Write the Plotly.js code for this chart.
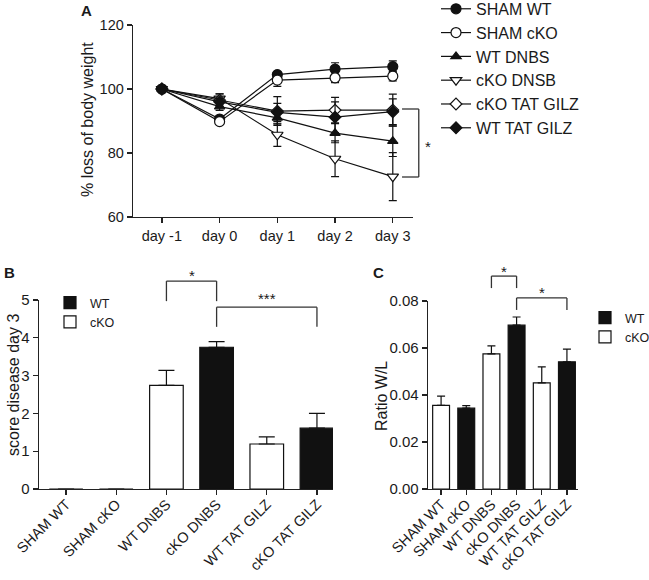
<!DOCTYPE html>
<html><head><meta charset="utf-8">
<script src="https://cdn.plot.ly/plotly-3.0.1.min.js"></script>
<style>html,body{margin:0;padding:0;background:#fff}#chart{width:649px;height:580px}</style>
</head><body><div id="chart"></div>
<script>
// ---- Panel A data ----
const days = ['day -1', 'day 0', 'day 1', 'day 2', 'day 3'];
const shamWT = [100, 90.6, 104.5, 106.2, 107.0];
const shamWTErr = [0.5, 0.8, 0.8, 2.0, 1.8];
const shamCKO = [100, 89.8, 102.8, 103.5, 104.0];
const shamCKOErr = [0.5, 0.8, 2.0, 1.5, 1.5];
const wtDNBS = [100, 94.5, 91.0, 86.2, 83.7];
const wtDNBSErr = [0.5, 1.2, 2.0, 3.0, 4.8];
const ckoDNSB = [100, 97.0, 85.7, 78.2, 72.6];
const ckoDNSBErr = [0.5, 1.5, 3.6, 5.6, 7.5];
const ckoTAT = [100, 96.5, 93.1, 93.4, 93.4];
const ckoTATErr = [0.5, 2.0, 4.5, 4.0, 5.0];
const wtTAT = [100, 96.0, 92.7, 91.2, 92.9];
const wtTATErr = [0.5, 1.0, 2.8, 4.8, 4.0];
const seriesNames = ['SHAM WT', 'SHAM cKO', 'WT DNBS', 'cKO DNSB', 'cKO TAT GILZ', 'WT TAT GILZ'];

// ---- Panel B / C data ----
const groups = ['SHAM WT', 'SHAM cKO', 'WT DNBS', 'cKO DNBS', 'WT TAT GILZ', 'cKO TAT GILZ'];
const scoreDay3 = [0, 0, 2.74, 3.75, 1.19, 1.61];
const scoreDay3Err = [0, 0, 0.40, 0.15, 0.19, 0.39];
const scoreFill = ['cKO', 'cKO', 'cKO', 'WT', 'cKO', 'WT'];
const ratioWL = [0.0356, 0.0344, 0.0575, 0.0697, 0.0452, 0.0541];
const ratioWLErr = [0.0039, 0.0011, 0.0034, 0.0035, 0.0068, 0.0054];
const ratioFill = ['cKO', 'WT', 'cKO', 'WT', 'cKO', 'WT'];
const fillNames = ['WT', 'cKO'];

// ---- styling ----
const W = 649, H = 580;
const FONT = 'Liberation Sans, Arial, Helvetica, sans-serif';
const INK = '#1a1a1a';
const fillColor = {WT: '#111111', cKO: '#ffffff'};

const domA = {x: [133 / W, 413 / W], y: [1 - 217 / H, 1 - 25 / H], xr: [-0.5, 4.35], yr: [60, 120]};
const domB = {x: [39 / W, 333 / W], y: [1 - 489 / H, 1 - 300 / H], xr: [-0.54, 5.32], yr: [0, 5]};
const domC = {x: [428 / W, 578 / W], y: [1 - 489 / H, 1 - 301 / H], xr: [-0.52, 5.44], yr: [0, 0.08]};

function px(d, v) { return d.x[0] + (v - d.xr[0]) / (d.xr[1] - d.xr[0]) * (d.x[1] - d.x[0]); }
function py(d, v) { return d.y[0] + (v - d.yr[0]) / (d.yr[1] - d.yr[0]) * (d.y[1] - d.y[0]); }

const traces = [];
const aVals = [shamWT, shamCKO, wtDNBS, ckoDNSB, ckoTAT, wtTAT];
const aErrs = [shamWTErr, shamCKOErr, wtDNBSErr, ckoDNSBErr, ckoTATErr, wtTATErr];
const aSym = ['circle', 'circle', 'triangle-up', 'triangle-down', 'diamond', 'diamond'];
const aFill = ['#111', '#fff', '#111', '#fff', '#fff', '#111'];
const aSize = [10, 10, 9, 10, 9, 9];
for (let i = 0; i < aVals.length; i++) {
  traces.push({
    type: 'scatter', mode: 'lines+markers', name: seriesNames[i],
    x: days, y: aVals[i], xaxis: 'x', yaxis: 'y', legend: 'legend',
    line: {color: '#111', width: 1.2},
    marker: {symbol: aSym[i], size: aSize[i], color: aFill[i], line: {color: '#111', width: 1.2}},
    error_y: {type: 'data', array: aErrs[i], color: '#111', thickness: 1.2, width: 4},
    cliponaxis: false, hoverinfo: 'skip'
  });
}

function barTraces(vals, errs, fills, xa, ya, leg, capW) {
  return fillNames.map(f => ({
    type: 'bar', name: f, legend: leg, xaxis: xa, yaxis: ya,
    x: groups,
    y: vals.map((v, i) => fills[i] === f ? v : null),
    width: 0.67,
    marker: {color: fillColor[f], line: {color: '#111', width: 1.2}},
    error_y: {type: 'data', symmetric: false,
      array: errs.map((v, i) => fills[i] === f ? v : null),
      arrayminus: errs.map(() => 0), color: '#111', thickness: 1.2, width: capW},
    cliponaxis: false, hoverinfo: 'skip'
  }));
}
traces.push(...barTraces(scoreDay3, scoreDay3Err, scoreFill, 'x2', 'y2', 'legend2', 8));
traces.push(...barTraces(ratioWL, ratioWLErr, ratioFill, 'x3', 'y3', 'legend3', 4));

const axBase = {
  showgrid: false, zeroline: false, showline: true, linecolor: '#222', linewidth: 1.3,
  ticks: 'outside', ticklen: 5, tickwidth: 1.3, tickcolor: '#222',
  tickfont: {family: FONT, size: 14.5, color: INK}, fixedrange: true
};

function line(x0, y0, x1, y1) {
  return {type: 'line', xref: 'paper', yref: 'paper', x0, y0, x1, y1, line: {color: '#333', width: 1.3}};
}
function bracket(d, i0, i1, yTop, yBot) {
  return [
    line(px(d, i0), py(d, yBot), px(d, i0), py(d, yTop)),
    line(px(d, i0), py(d, yTop), px(d, i1), py(d, yTop)),
    line(px(d, i1), py(d, yTop), px(d, i1), py(d, yBot))
  ];
}
function txt(x, y, text, size, opts) {
  return Object.assign({xref: 'paper', yref: 'paper', x, y, text, showarrow: false,
    xanchor: 'center', yanchor: 'middle', font: {family: FONT, size, color: INK}}, opts || {});
}

const shapes = [
  // panel A bracket
  line(px(domA, 4.16), py(domA, 93.75), px(domA, 4.45), py(domA, 93.75)),
  line(px(domA, 4.45), py(domA, 93.75), px(domA, 4.45), py(domA, 72.5)),
  line(px(domA, 4.16), py(domA, 72.5), px(domA, 4.45), py(domA, 72.5)),
  ...bracket(domB, 2, 3, 5.50, 4.97),
  ...bracket(domB, 3, 5, 4.81, 4.29),
  ...bracket(domC, 2, 3, 0.0906, 0.0855),
  ...bracket(domC, 3, 5, 0.0813, 0.0762)
];

const annotations = [
  txt(86 / W, 1 - 10 / H, '<b>A</b>', 15),
  txt(9 / W, 1 - 272 / H, '<b>B</b>', 15),
  txt(378 / W, 1 - 272 / H, '<b>C</b>', 15),
  txt(88 / W, 1 - 120 / H, '% loss of body weight', 16, {textangle: -90}),
  txt(13 / W, 1 - 385 / H, 'score disease day 3', 16, {textangle: -90}),
  txt(381 / W, 1 - 396 / H, 'Ratio W/L', 16, {textangle: -90}),
  txt(px(domA, 4.61), py(domA, 82.0), '*', 15),
  txt(px(domB, 2.5), py(domB, 5.64), '*', 15),
  txt(px(domB, 4.0), py(domB, 5.03), '***', 15),
  txt(px(domC, 2.5), py(domC, 0.0925), '*', 15),
  txt(px(domC, 4.0), py(domC, 0.0835), '*', 15)
];

const layout = {
  width: W, height: H, margin: {l: 0, r: 0, t: 0, b: 0, autoexpand: false},
  paper_bgcolor: '#fff', plot_bgcolor: '#fff',
  font: {family: FONT, color: INK},
  showlegend: true, barmode: 'overlay',
  xaxis: Object.assign({}, axBase, {domain: domA.x, anchor: 'y', type: 'category', range: domA.xr}),
  yaxis: Object.assign({}, axBase, {domain: domA.y, anchor: 'x', range: domA.yr, tickvals: [60, 80, 100, 120]}),
  xaxis2: Object.assign({}, axBase, {domain: domB.x, anchor: 'y2', type: 'category', range: domB.xr, tickangle: -45,
    ticklabelstandoff: -5, tickfont: {family: FONT, size: 14.5, color: INK}}),
  yaxis2: Object.assign({}, axBase, {domain: domB.y, anchor: 'x2', range: domB.yr, dtick: 1,
    tickfont: {family: FONT, size: 15, color: INK}}),
  xaxis3: Object.assign({}, axBase, {domain: domC.x, anchor: 'y3', type: 'category', range: domC.xr, tickangle: -45,
    ticklabelstandoff: -5, tickfont: {family: FONT, size: 14.5, color: INK}}),
  yaxis3: Object.assign({}, axBase, {domain: domC.y, anchor: 'x3', range: domC.yr, dtick: 0.02, tickformat: '.2f',
    tickfont: {family: FONT, size: 15, color: INK}}),
  legend: {x: 436 / W, xanchor: 'left', y: 1.014, yanchor: 'top', bgcolor: 'rgba(0,0,0,0)',
    font: {family: FONT, size: 16, color: INK}, tracegroupgap: 0, itemclick: false, itemdoubleclick: false},
  legend2: {x: 50 / W, xanchor: 'left', y: 1 - 288 / H, yanchor: 'top', bgcolor: 'rgba(0,0,0,0)',
    font: {family: FONT, size: 12.5, color: INK}, tracegroupgap: 0},
  legend3: {x: 585 / W, xanchor: 'left', y: 1 - 303 / H, yanchor: 'top', bgcolor: 'rgba(0,0,0,0)',
    font: {family: FONT, size: 12.5, color: INK}, tracegroupgap: 0},
  shapes, annotations
};

Plotly.newPlot('chart', traces, layout, {staticPlot: true, displayModeBar: false});
</script></body></html>
